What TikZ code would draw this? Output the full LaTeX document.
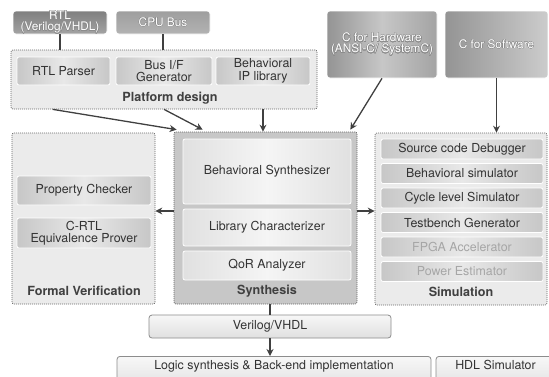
\documentclass[tikz,border=0pt]{standalone}
\usepackage{fontspec}
\setmainfont{TeX Gyre Heros}
\usepackage{contour}
\contourlength{0.35pt}
\usetikzlibrary{positioning,calc,arrows.meta}
\newcommand{\shd}[1]{\contour{black!45}{#1}}
\tikzset{
  every node/.style={font=\fontsize{12.4}{12.5}\selectfont},
  srcbox/.style={rounded corners=3pt,draw=white,line width=0.6pt,align=center,text=white,inner sep=0pt,
    font=\fontsize{11.8}{11}\selectfont},
  group/.style={rounded corners=2pt,draw=black!60,dash pattern=on 1pt off 1pt,line width=0.7pt,fill=black!8,inner sep=0pt},
  item/.style={rounded corners=2pt,draw=white,line width=0.8pt,align=center,text=black!80,inner sep=0pt,
    left color=black!22,right color=black!22,middle color=black!9},
  lightitem/.style={item,left color=black!12,right color=black!12,middle color=black!4},
  outbox/.style={rounded corners=3pt,draw=black!45,line width=0.8pt,top color=black!3,bottom color=black!12,text=black!80,inner sep=0pt},
  grouplabel/.style={font=\fontsize{12.6}{14}\selectfont\bfseries,text=black!75},
  link/.style={draw=black!75,line width=1.3pt}
}
\begin{document}
\begin{tikzpicture}[x=1pt,y=-1pt,>={Stealth[length=7pt,width=7pt]}]
    \useasboundingbox (0,0) rectangle (549,376);
    % inputs
    \node at (60,22.5) [srcbox,minimum width=94pt,minimum height=23pt,top color=black!50,bottom color=black!36] (rtl) {\shd{RTL}\\\shd{(Verilog/VHDL)}};
    \node at (163,22.5) [srcbox,minimum width=94pt,minimum height=23pt,top color=black!38,bottom color=black!30] (cpu) {\shd{CPU Bus}};
    \node at (382,44.5) [srcbox,minimum width=110pt,minimum height=67pt,left color=black!42,right color=black!36,middle color=black!22] (chw) {\shd{C for Hardware}\\\shd{(ANSI-C/ SystemC)}};
    \node at (496.5,44.5) [srcbox,minimum width=103pt,minimum height=67pt,left color=black!42,right color=black!20] (csw) {\shd{C for Software}};

    % groups
    \node at (164,79.5) [group,minimum width=306pt,minimum height=59pt] (platform) {};
    \node at (83.5,218.5) [group,minimum width=143pt,minimum height=171pt] (formal) {};
    \node at (265.5,218) [group,fill=black!22,minimum width=183pt,minimum height=172pt] (synth) {};
    \node at (461,219) [group,minimum width=172pt,minimum height=172pt] (sim) {};

    % platform design
    \node at (63.5,71) [item,minimum width=93pt,minimum height=28pt] (parser) {RTL Parser};
    \node at (164,71) [item,minimum width=96pt,minimum height=28pt] (busif) {Bus I/F\\Generator};
    \node at (263,71) [item,minimum width=94pt,minimum height=28pt] (bip) {Behavioral\\IP library};
    \node at (170,98) [grouplabel] (pdlabel) {Platform design};

    % formal verification
    \node at (84,190.5) [item,minimum width=134pt,minimum height=29pt] (prop) {Property Checker};
    \node at (84,233) [item,minimum width=134pt,minimum height=30pt] (crtl) {C-RTL\\Equivalence Prover};
    \node at (84,291) [grouplabel] (fvlabel) {Formal Verification};

    % synthesis
    \node at (267,171.5) [lightitem,minimum width=168pt,minimum height=65pt] (bsyn) {Behavioral Synthesizer};
    \node at (267,227.5) [lightitem,minimum width=168pt,minimum height=37pt] (libc) {Library Characterizer};
    \node at (267,265.5) [lightitem,minimum width=168pt,minimum height=29pt] (qor) {QoR Analyzer};
    \node at (267,291) [grouplabel] (synlabel) {Synthesis};

    % simulation
    \node at (462,149) [item,minimum width=162pt,minimum height=20pt] (scd) {Source code Debugger};
    \node at (462,173.5) [item,minimum width=162pt,minimum height=20pt] (bsim) {Behavioral simulator};
    \node at (462,198) [item,minimum width=162pt,minimum height=20pt] (cls) {Cycle level Simulator};
    \node at (462,222.5) [item,minimum width=162pt,minimum height=20pt] (tbg) {Testbench Generator};
    \node at (462,247) [item,text=black!35,minimum width=162pt,minimum height=20pt] (fpga) {FPGA Accelerator};
    \node at (462,271.5) [item,text=black!35,minimum width=162pt,minimum height=20pt] (pest) {Power Estimator};
    \node at (461,292) [grouplabel] (simlabel) {Simulation};

    % outputs
    \node at (270,326.5) [outbox,minimum width=242pt,minimum height=23pt] (hdl) {Verilog/VHDL};
    \node at (274,356) [outbox,anchor=north,minimum width=314pt,text height=13pt,text depth=20pt] (logic) {Logic synthesis \& Back-end implementation};
    \node at (495.5,356) [outbox,anchor=north,minimum width=119pt,text height=13pt,text depth=20pt] (hdlsim) {HDL Simulator};

    % connectors
    \draw[link] (rtl.south) -- (rtl.south |- platform.north);
    \draw[link] (cpu.south) -- (cpu.south |- platform.north);
    \draw[link,->] ([xshift=42pt]platform.south west) -- ([xshift=3pt,yshift=2pt]synth.north west);
    \draw[link,->] (platform.south) -- ([xshift=29pt,yshift=2pt]synth.north west);
    \draw[link,->] (platform.south -| bip) -- (synth.north -| bip);
    \draw[link,->] (chw.south) -- ([xshift=-7pt,yshift=2pt]synth.north east);
    \draw[link,->] (csw.south) -- (csw.south |- sim.north);
    \draw[link,->] ([yshift=7pt]synth.west) -- ([yshift=7pt]synth.west -| formal.east);
    \draw[link,->] ([yshift=7pt]synth.east) -- ([yshift=7pt]synth.east -| sim.west);
    \draw[link] (synth.south -| hdl.north) -- (hdl.north);
    \draw[link,->] (hdl.south) -- (hdl.south |- logic.north);
\end{tikzpicture}
\end{document}
